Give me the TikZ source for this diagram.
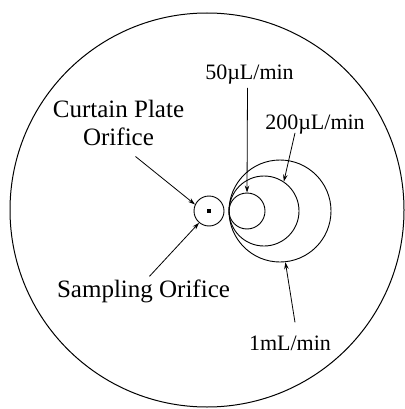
\documentclass[tikz,border=0pt]{standalone}
\usepackage{fontspec}
\setmainfont{Liberation Serif}
\usetikzlibrary{arrows.meta,positioning,calc}

\begin{document}
\begin{tikzpicture}[
    x=1pt, y=-1pt,
    ring/.style={draw, circle, line width=0.9pt, inner sep=0pt},
    lbl/.style={align=center, inner sep=0pt},
    big/.style={font=\fontsize{25}{28}\selectfont},
    rate/.style={font=\fontsize{22}{24}\selectfont},
    arr/.style={-{Stealth[length=7pt, width=4.5pt]}, line width=0.8pt}
]
\useasboundingbox (0,0) rectangle (404,409);

% outer plate
\node[ring, line width=1pt, minimum size=394pt] (plate) at (207,210) {};

% orifice and plume circles
\node[ring, minimum size=30pt] (cp) at (209,211) {};
\node[fill, minimum size=4pt, inner sep=0pt] (sp) at (cp.center) {};
\node[ring, minimum size=36pt] (c50) at (247,211) {};
\node[ring, minimum size=70pt] (c200) at (264,211) {};
\node[ring, minimum size=102pt] (c1) at (280,211) {};

% labels
\node[lbl, big] (cpl) at (118.5,122.5) {Curtain Plate\\Orifice};
\node[lbl, big] (spl) at (143.5,291) {Sampling Orifice};
\node[lbl, rate] (l50) at (249.5,75) {50µL/min};
\node[lbl, rate] (l200) at (315,125) {200µL/min};
\node[lbl, rate] (l1) at (290,343) {1mL/min};

\draw[arr] ([xshift=17pt, yshift=-11pt]cpl.south) -- (cp.155);
\draw[arr] ([xshift=6pt, yshift=3pt]spl.north) -- (cp.230);
\draw[arr] ([xshift=-2pt, yshift=-3pt]l50.south) -- (c50.north);
\draw[arr] ([xshift=-20pt, yshift=2pt]l200.south) -- (c200.56);
\draw[arr] ([xshift=5pt, yshift=13pt]l1.north) -- (c1.-84);

\end{tikzpicture}
\end{document}
